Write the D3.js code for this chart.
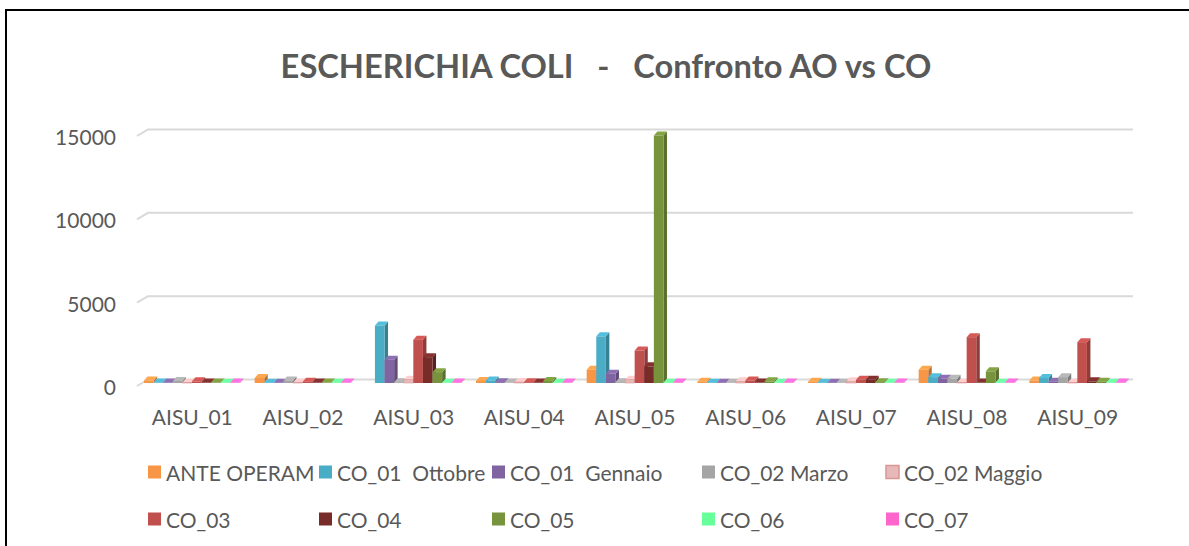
<!DOCTYPE html>
<html><head><meta charset="utf-8">
<script src="https://cdn.jsdelivr.net/npm/d3@7"></script>
<style>
html,body{margin:0;padding:0;background:#fff;}
svg{display:block;}
text{font-family:Lato,"Open Sans",sans-serif;fill:#595959;white-space:pre;}
</style></head><body>
<svg id="chart" width="1189" height="546"></svg>
<script>
const title = "ESCHERICHIA COLI   -   Confronto AO vs CO";
const sites = ["AISU_01","AISU_02","AISU_03","AISU_04","AISU_05","AISU_06","AISU_07","AISU_08","AISU_09"];
const seriesNames = ["ANTE OPERAM","CO_01  Ottobre","CO_01  Gennaio","CO_02 Marzo","CO_02 Maggio","CO_03","CO_04","CO_05","CO_06","CO_07"];
const seriesColors = ["#F79646","#4BACC6","#8064A2","#A5A5A5","#E6B9B8","#C0504D","#772C2A","#77933C","#66FF99","#FF66CC"];
const yTicks = [0,5000,10000,15000];

const anteOperam  = [150, 300, null, 120, 800, 80, 80, 800, 150];
const co01Ottobre = [30, 20, 3450, 150, 2800, 20, 20, 350, 300];
const co01Gennaio = [30, 20, 1400, 50, 550, 20, 20, 250, 80];
const co02Marzo   = [120, 150, 50, 30, 50, 20, 20, 250, 350];
const co02Maggio  = [20, 20, 200, 60, 200, 100, 100, 20, 20];
const co03        = [100, 80, 2600, 50, 1950, 150, 200, 2750, 2450];
const co04        = [30, 30, 1550, 30, 1000, 30, 200, 30, 100];
const co05        = [30, 30, 650, 120, 14850, 100, 50, 700, 80];
const co06        = [20, 20, 20, 20, 20, 20, 20, 20, 20];
const co07        = [30, 30, 30, 30, 30, 30, 30, 30, 30];
const seriesValues = [anteOperam, co01Ottobre, co01Gennaio, co02Marzo, co02Maggio, co03, co04, co05, co06, co07];

const svg = d3.select("#chart");
const W = 1189, H = 546;
svg.append("rect").attr("width",W).attr("height",H).attr("fill","#fff");
svg.append("path").attr("d",`M6,${H} L6,10 L${W},10`).attr("fill","none").attr("stroke","#000").attr("stroke-width",2);

const x = d3.scaleBand().domain(sites).range([137,1133]).padding(0);
const xi = d3.scaleBand().domain(seriesNames).range([7,103]).padding(0);
const y = d3.scaleLinear().domain([0,15000]).range([383,133]);
const dx = 3.5, dy = 4;

const g = svg.append("g");
yTicks.forEach(t=>{
  const yy = y(t);
  g.append("path").attr("d",`M137,${yy+3} L148,${yy-3.5} L1133,${yy-3.5}`)
    .attr("fill","none").attr("stroke","#D9D9D9").attr("stroke-width",2);
  svg.append("text").attr("x",116).attr("y",yy+3.5).attr("text-anchor","end")
    .attr("dominant-baseline","central").style("font-size","21px").text(t);
});

const bars = svg.append("g");
sites.forEach((s,si)=>{
  seriesNames.forEach((n,k)=>{
    const v = seriesValues[k][si];
    if(v==null) return;
    const c = d3.color(seriesColors[k]);
    const x0 = x(s)+xi(n), w = xi.bandwidth();
    const yt = y(v), yb = y(0);
    const grp = bars.append("g");
    const stroke = k===4 ? "#D99694" : "none";
    grp.append("path").attr("d",`M${x0+w},${yb} L${x0+w},${yt} L${x0+w+dx},${yt-dy} L${x0+w+dx},${yb-dy} Z`)
      .attr("fill",c.darker(0.8));
    grp.append("path").attr("d",`M${x0},${yt} L${x0+dx},${yt-dy} L${x0+w+dx},${yt-dy} L${x0+w},${yt} Z`)
      .attr("fill",c.brighter(0.3));
    grp.append("rect").attr("x",x0).attr("y",yt).attr("width",w).attr("height",Math.max(0,yb-yt))
      .attr("fill",c).attr("stroke",stroke).attr("stroke-width",0.6);
  });
});

sites.forEach(s=>{
  svg.append("text").attr("x",x(s)+x.bandwidth()/2).attr("y",416).attr("text-anchor","middle")
    .attr("dominant-baseline","central").style("font-size","21px").text(s);
});

const tt = svg.append("text").attr("x",606).attr("y",65).attr("text-anchor","middle")
  .attr("dominant-baseline","central").style("font-size","30px").style("font-weight","bold").text(title);
const tl = tt.node().getComputedTextLength();
tt.style("font-size",(30*651/tl)+"px");

const legX = [148,319,492,702,886];
const legY = [472,519];
seriesNames.forEach((n,k)=>{
  const lx = legX[k%5], ly = legY[Math.floor(k/5)];
  svg.append("rect").attr("x",lx).attr("y",ly-6.5).attr("width",13).attr("height",13)
    .attr("fill",seriesColors[k]).attr("stroke",k===4?"#D99694":"none").attr("stroke-width",1.5);
  svg.append("text").attr("x",lx+18).attr("y",ly).attr("dominant-baseline","central")
    .style("font-size","21px").text(n);
});
</script>
</body></html>
